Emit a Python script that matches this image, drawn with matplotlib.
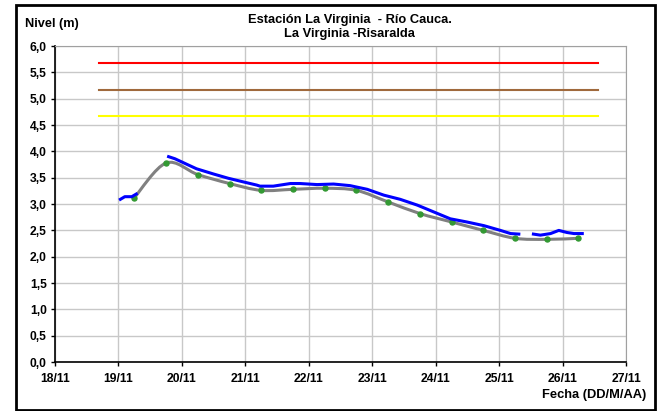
import datetime as dt
import numpy as np
import matplotlib
matplotlib.use("Agg")
import matplotlib.pyplot as plt
import matplotlib.dates as mdates
from matplotlib.path import Path
from matplotlib.patches import PathPatch, Rectangle
from matplotlib.ticker import FuncFormatter, MultipleLocator

# observed level (blue), day of November as fraction, None = gap
blue_day = [19.03, 19.10, 19.21, 19.28, None,
            19.79, 19.89, 20.05, 20.23, 20.50, 20.73, 20.97, 21.18, 21.23,
            21.44, 21.71, 21.86, 22.13, 22.39, 22.65, 22.92, 23.18, 23.44,
            23.71, 23.97, 24.23, 24.49, 24.76, 25.02, 25.18, 25.31, None,
            25.54, 25.65, 25.81, 25.94, 26.07, 26.18, 26.31]
blue_level = [3.09, 3.14, 3.14, 3.19, None,
              3.90, 3.86, 3.77, 3.67, 3.57, 3.49, 3.42, 3.36, 3.34,
              3.34, 3.39, 3.39, 3.37, 3.38, 3.35, 3.28, 3.17, 3.09,
              2.98, 2.85, 2.72, 2.66, 2.59, 2.50, 2.44, 2.43, None,
              2.43, 2.41, 2.44, 2.50, 2.46, 2.44, 2.44]

# 12-hourly points (grey smoothed line + green markers)
mean_day = [19.25, 19.75, 20.25, 20.75, 21.25, 21.75, 22.25, 22.75,
            23.25, 23.75, 24.25, 24.75, 25.25, 25.75, 26.25]
mean_level = [3.12, 3.78, 3.56, 3.39, 3.26, 3.28, 3.30, 3.26,
              3.04, 2.82, 2.66, 2.50, 2.35, 2.33, 2.35]

# alert thresholds
thr_start, thr_end = 18.69, 26.56
thr_levels = [5.68, 5.17, 4.67]
thr_colors = ["#ff0000", "#a0693c", "#ffff00"]


def to_date(d):
    return dt.datetime(2011, 11, 1) + dt.timedelta(days=d - 1)


plt.rcParams["font.family"] = ["Liberation Sans", "DejaVu Sans"]
plt.rcParams["font.weight"] = "bold"

fig = plt.figure(figsize=(6.59, 4.11), dpi=100)
ax = fig.add_axes([0.0835, 0.119, 0.8665, 0.769])

# thresholds
for lev, col in zip(thr_levels, thr_colors):
    ax.plot([to_date(thr_start), to_date(thr_end)], [lev, lev], color=col, lw=1.5)

# smoothed grey line (bezier through the 12-hourly points)
xs = mdates.date2num([to_date(d) for d in mean_day])
ys = np.array(mean_level)
verts = [(xs[0], ys[0])]
codes = [Path.MOVETO]
n = len(xs)
for i in range(n - 1):
    p0 = np.array([xs[max(i - 1, 0)], ys[max(i - 1, 0)]])
    p1 = np.array([xs[i], ys[i]])
    p2 = np.array([xs[i + 1], ys[i + 1]])
    p3 = np.array([xs[min(i + 2, n - 1)], ys[min(i + 2, n - 1)]])
    c1 = p1 + (p2 - p0) / 6
    c2 = p2 - (p3 - p1) / 6
    verts += [tuple(c1), tuple(c2), tuple(p2)]
    codes += [Path.CURVE4] * 3
ax.add_patch(PathPatch(Path(verts, codes), fill=False, ec="#808080", lw=2.2, zorder=3))
ax.plot(xs, ys, "o", color="#339933", ms=3.6, zorder=4)

# observed blue line
bx = [mdates.date2num(to_date(d)) if d is not None else np.nan for d in blue_day]
by = [v if v is not None else np.nan for v in blue_level]
ax.plot(bx, by, color="#0000ff", lw=2.2, zorder=5)

ax.set_xlim(to_date(18), to_date(27))
ax.set_ylim(0, 6)
ax.xaxis.set_major_locator(mdates.DayLocator())
ax.xaxis.set_major_formatter(mdates.DateFormatter("%d/%m"))
ax.yaxis.set_major_locator(MultipleLocator(0.5))
ax.yaxis.set_major_formatter(FuncFormatter(lambda v, p: f"{v:.1f}".replace(".", ",")))
ax.grid(True, color="#c8c8c8", lw=1)
ax.set_axisbelow(True)
for s in ["top", "right"]:
    ax.spines[s].set_color("#a0a0a0")
for s in ["left", "bottom"]:
    ax.spines[s].set_color("black")
    ax.spines[s].set_linewidth(1.2)
ax.tick_params(labelsize=8.7, length=3, width=1, pad=3)
ax.tick_params(axis="x", pad=5)

fig.text(0.531, 0.951, "Estación La Virginia  - Río Cauca.", ha="center", va="center", fontsize=9.3, fontweight="bold")
fig.text(0.531, 0.917, "La Virginia -Risaralda", ha="center", va="center", fontsize=9.3, fontweight="bold")
fig.text(0.038, 0.942, "Nivel (m)", ha="left", va="center", fontsize=9.2, fontweight="bold")
fig.text(0.981, 0.039, "Fecha (DD/M/AA)", ha="right", va="center", fontsize=9.3, fontweight="bold")

fig.patches.append(Rectangle((16 / 659, 1 - 410 / 411), 639 / 659, 405 / 411,
                             transform=fig.transFigure, fill=False, ec="black", lw=2))

fig.savefig("out.png", dpi=100)
